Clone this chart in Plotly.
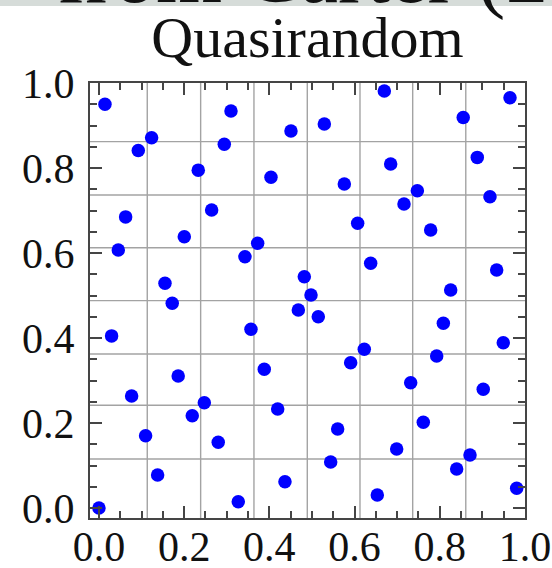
import plotly.graph_objects as go

# Quasirandom sample points in the unit square
x_vals = [0.0, 0.0141, 0.0297, 0.0454, 0.0626, 0.0767, 0.0923, 0.1095,
          0.1236, 0.1377, 0.155, 0.172, 0.186, 0.2003, 0.219, 0.2331,
          0.2473, 0.2645, 0.280, 0.2942, 0.3099, 0.327, 0.3427, 0.3568,
          0.3725, 0.388, 0.4038, 0.4195, 0.4366, 0.4507, 0.468, 0.482,
          0.4977, 0.5148, 0.529, 0.5439, 0.5603, 0.5759, 0.5908, 0.6072,
          0.6228, 0.6378, 0.6533, 0.6698, 0.6847, 0.6988, 0.716, 0.7317,
          0.7473, 0.7613, 0.7786, 0.7927, 0.8083, 0.8256, 0.8396, 0.855,
          0.8709, 0.888, 0.902, 0.9178, 0.9335, 0.949, 0.9648, 0.9805]
y_vals = [0.0, 0.950, 0.405, 0.607, 0.685, 0.2635, 0.841, 0.170,
          0.871, 0.0776, 0.5287, 0.4816, 0.3106, 0.638, 0.2173, 0.795,
          0.2478, 0.701, 0.1546, 0.8558, 0.934, 0.0149, 0.5914, 0.4204,
          0.6228, 0.3263, 0.778, 0.233, 0.0619, 0.887, 0.4659, 0.544,
          0.501, 0.450, 0.9035, 0.1082, 0.1859, 0.7624, 0.342, 0.670,
          0.3734, 0.5757, 0.0306, 0.981, 0.8094, 0.1388, 0.7153, 0.2948,
          0.7466, 0.2016, 0.654, 0.3576, 0.4346, 0.513, 0.0918, 0.919,
          0.1247, 0.825, 0.2793, 0.7325, 0.56, 0.389, 0.9654, 0.0463]

# Cell boundaries of the reference grid
grid_x = [0.1134, 0.2387, 0.3638, 0.489, 0.6127, 0.7364, 0.861]
grid_y = [0.1153, 0.2419, 0.3624, 0.488, 0.6125, 0.7365, 0.862]

tick_vals = [0.0, 0.2, 0.4, 0.6, 0.8, 1.0]
tick_text = ["0.0", "0.2", "0.4", "0.6", "0.8", "1.0"]

SERIF = "Liberation Serif, Times New Roman, serif"
FRAME = "#454545"
GRID = "#a3a3a3"

fig = go.Figure()
fig.add_trace(go.Scatter(
    x=x_vals, y=y_vals, mode="markers",
    marker=dict(color="#0000ff", size=13.5, line=dict(width=0)),
    hoverinfo="skip", showlegend=False,
))

for gx in grid_x:
    fig.add_shape(type="line", xref="x", yref="paper", x0=gx, x1=gx, y0=0, y1=1,
                  line=dict(color=GRID, width=1.4), layer="below")
for gy in grid_y:
    fig.add_shape(type="line", xref="paper", yref="y", x0=0, x1=1, y0=gy, y1=gy,
                  line=dict(color=GRID, width=1.4), layer="below")

# grey strip at the very top of the page
fig.add_shape(type="rect", xref="paper", yref="paper",
              x0=-0.3, x1=1.2, y0=1.1770, y1=1.25,
              fillcolor="#d6dcd9", line=dict(width=0), layer="below")

axis_common = dict(
    showline=True, linecolor=FRAME, linewidth=2, mirror="allticks",
    ticks="inside", ticklen=12, tickwidth=1.5, tickcolor=FRAME,
    tickvals=tick_vals, ticktext=tick_text,
    minor=dict(ticks="inside", ticklen=7, tickwidth=1.5, tickcolor=FRAME,
               dtick=0.05, tick0=0, showgrid=False),
    showgrid=False, zeroline=False, automargin=False,
    tickfont=dict(family=SERIF, size=42, color="#111111"),
)

fig.update_xaxes(range=[-0.021, 1.0], ticklabelstandoff=-9, **axis_common)
fig.update_yaxes(range=[-0.0235, 1.0], ticklabelstandoff=5, **axis_common)

fig.update_layout(
    width=552, height=568,
    margin=dict(l=90, r=27, t=83, b=50, autoexpand=False),
    paper_bgcolor="white", plot_bgcolor="white",
    title=dict(text="Quasirandom", x=0.5, xref="paper", xanchor="center",
               y=1 - 37 / 568, yref="container", yanchor="middle",
               font=dict(family=SERIF, size=58, color="#111111")),
    annotations=[dict(
        text="from Carter (2", xref="paper", yref="paper",
        x=-0.08, y=1.137, xanchor="left", yanchor="bottom", showarrow=False,
        font=dict(family=SERIF, size=85, color="#111111"),
    )],
)

fig.write_html("out.html")
